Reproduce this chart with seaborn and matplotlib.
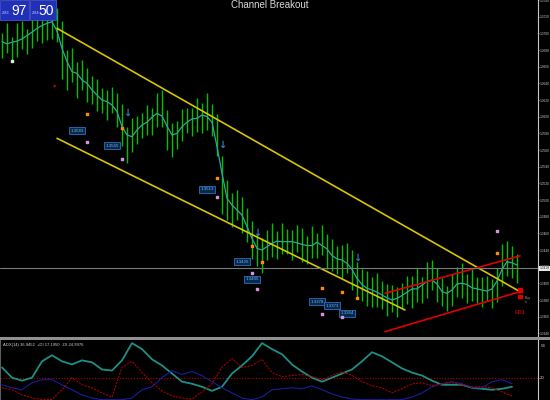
import numpy as np
import pandas as pd
import seaborn as sns
import matplotlib.pyplot as plt
from matplotlib.patches import Rectangle
import matplotlib.transforms as mtransforms

# ---- price bars (mid price per bar and high-low range in pips) ----
mid_prices = [1.3686, 1.3694, 1.3682, 1.3692, 1.3698, 1.3690, 1.3704, 1.3710, 1.3704, 1.3714,
              1.3718, 1.3710, 1.3680, 1.3656, 1.3662, 1.3644, 1.3650, 1.3638, 1.3632, 1.3626,
              1.3620, 1.3614, 1.3620, 1.3608, 1.3590, 1.3566, 1.3578, 1.3584, 1.3590, 1.3596,
              1.3594, 1.3608, 1.3610, 1.3584, 1.3572, 1.3578, 1.3590, 1.3596, 1.3594, 1.3602,
              1.3598, 1.3606, 1.3596, 1.3578, 1.3518, 1.3500, 1.3488, 1.3494, 1.3482, 1.3470,
              1.3452, 1.3440, 1.3434, 1.3446, 1.3452, 1.3446, 1.3454, 1.3450, 1.3446, 1.3454,
              1.3446, 1.3440, 1.3450, 1.3446, 1.3452, 1.3438, 1.3434, 1.3428, 1.3426, 1.3430,
              1.3416, 1.3404, 1.3398, 1.3394, 1.3390, 1.3392, 1.3386, 1.3380, 1.3382, 1.3378,
              1.3386, 1.3392, 1.3390, 1.3398, 1.3392, 1.3404, 1.3410, 1.3398, 1.3390, 1.3382,
              1.3392, 1.3402, 1.3404, 1.3394, 1.3398, 1.3392, 1.3390, 1.3394, 1.3388, 1.3398,
              1.3422, 1.3430, 1.3426, 1.3418]
range_pips = [30, 36, 28, 40, 34, 30, 42, 38, 30, 44, 50, 40,
              70, 48, 40, 44, 36, 40, 34, 38, 30, 36, 32, 40, 50, 44, 40, 34, 30, 36,
              32, 40, 44, 48, 40, 34, 38, 30, 34, 40, 36, 44, 38, 50, 70, 48, 40, 36,
              44, 40, 46, 38, 42, 36, 40, 34, 38, 30, 36, 32, 40, 34, 38, 30, 36, 42,
              38, 34, 40, 36, 48, 44, 38, 42, 36, 40, 34, 38, 32, 36, 30, 34, 38, 40,
              32, 44, 36, 40, 34, 30, 38, 36, 42, 34, 38, 32, 36, 30, 34, 40, 50, 42,
              38, 34]

# ---- channel lines: (bar, price) endpoints ----
yellow_upper = [(11, 1.3706), (103.6, 1.3390)]
yellow_lower = [(11, 1.3574), (80.6, 1.3368)]
red_upper = [(76.6, 1.3388), (103.6, 1.3433)]
red_lower = [(76.6, 1.3342), (103.6, 1.3390)]

# ---- signal markers ----
orange_bars = [17, 24, 43, 50, 52, 64, 68, 71, 99]
orange_prices = [1.3603, 1.3586, 1.3526, 1.3445, 1.3426, 1.3394, 1.3390, 1.3382, 1.3436]
pink_bars = [17, 24, 43, 50, 51, 64, 68, 99]
pink_prices = [1.3570, 1.3549, 1.3504, 1.3412, 1.3393, 1.3363, 1.3360, 1.3463]
arrow_bars = [25, 44, 51, 71]
arrow_prices = [1.3604, 1.3566, 1.3460, 1.3430]
label_bars = [15, 22, 41, 48, 50, 63, 66, 69]
label_prices = [1.3583, 1.3565, 1.3513, 1.3426, 1.3405, 1.3378, 1.3373, 1.3364]

# ---- ADX panel (every second bar) ----
adx = [29.3, 20.1, 17.4, 20.1, 34.8, 40.3, 34.8, 32.0, 35.7, 33.9, 27.5, 26.5, 35.7,
       51.2, 45.8, 36.6, 31.1, 23.8, 16.5, 14.6, 11.9, 8.2, 11.9, 23.8, 31.1, 39.3,
       51.2, 45.8, 41.2, 32.0, 25.6, 20.1, 16.5, 20.1, 23.8, 27.5, 34.8, 43.0, 39.3,
       33.9, 28.4, 24.7, 22.0, 17.4, 13.7, 13.7, 13.7, 11.0, 10.1, 9.2, 10.1, 11.9]
plus_di = [13.7, 11.0, 9.2, 15.6, 18.3, 18.3, 13.7, 9.2, 4.6, 1.8, 0.3, 0.3, 0.3,
           1.8, 9.2, 11.9, 20.1, 26.5, 22.9, 25.6, 22.0, 16.5, 11.0, 6.4, 1.8, 0.3,
           2.7, 9.2, 10.1, 11.0, 10.1, 12.8, 9.2, 5.5, 2.7, 0.9, 0.3, 0.3, 0.3,
           0.3, 0.3, 2.7, 6.4, 11.9, 14.6, 16.5, 14.6, 11.0, 11.0, 16.5, 18.3, 14.6]
minus_di = [11.0, 9.2, 4.6, 1.8, 0.5, 0.5, 9.2, 20.1, 13.7, 11.0, 6.4, 2.7, 29.3,
            34.8, 24.7, 15.6, 8.2, 3.7, 1.8, 0.9, 7.3, 14.6, 29.3, 37.5, 29.3, 31.1,
            36.6, 24.7, 21.0, 22.0, 22.9, 21.0, 18.3, 22.0, 25.6, 22.0, 16.5, 12.8, 11.0,
            6.4, 10.1, 14.6, 15.6, 12.8, 14.6, 15.6, 13.7, 11.9, 11.9, 11.0, 7.3, 3.7]

price_ticks = [1.3340 + 0.0020 * k for k in range(21)]

df = pd.DataFrame({'bar': np.arange(len(mid_prices)), 'mid': mid_prices, 'range': range_pips})
df['high'] = df['mid'] + df['range'] * 0.00005
df['low'] = df['mid'] - df['range'] * 0.00005
df['ma'] = df['mid'].rolling(3, center=True, min_periods=1).mean()

osc = pd.DataFrame({'bar': df['bar'].values[::2], 'adx': adx, 'pdi': plus_di, 'mdi': minus_di})

sns.set_style('dark', {'axes.facecolor': 'black', 'figure.facecolor': 'black'})
plt.rcParams['font.family'] = ['Liberation Sans', 'DejaVu Sans']

fig = plt.figure(figsize=(5.5, 4), dpi=100)
fig.patch.set_facecolor('black')
ax = fig.add_axes([0, 63 / 400, 538 / 550, 337 / 400])
ax2 = fig.add_axes([0, 0, 538 / 550, 60 / 400])

# main price panel
ax.vlines(df['bar'], df['low'], df['high'], color='#00c000', lw=1.0)
sns.lineplot(data=df, x='bar', y='ma', ax=ax, color='#2aa8a0', lw=0.9)

for seg, col in [(yellow_upper, '#d8c400'), (yellow_lower, '#d8c400'),
                 (red_upper, '#e00000'), (red_lower, '#e00000')]:
    ax.plot([seg[0][0], seg[1][0]], [seg[0][1], seg[1][1]], color=col, lw=1.2)

last_price = mid_prices[-1]
ax.axhline(last_price, color='#7a7a7a', lw=0.8)

ax.scatter(orange_bars, orange_prices, s=3, marker='s', color='#ff8c00', zorder=5)
ax.scatter(pink_bars, pink_prices, s=3, marker='s', color='#d890e0', zorder=5)
for b, p in zip(arrow_bars, arrow_prices):
    ax.text(b, p, '↓', color='#3a78c0', fontsize=7, ha='center', va='center',
            family=['DejaVu Sans'], fontweight='bold')
for b, p in zip(label_bars, label_prices):
    ax.text(b, p, f'{p:.4f}', color='#6fb0f0', fontsize=3.2, ha='center', va='center',
            bbox=dict(boxstyle='square,pad=0.35', fc='#0a2848', ec='#2a70c0', lw=0.6))

ax.text(10.6, 1.3636, '◆', color='#c00000', fontsize=3, ha='center', va='center',
        family=['DejaVu Sans'])
ax.scatter([2, 103.6, 103.6], [1.3667, 1.3392, 1.3384], s=[2, 6, 6], marker='s',
           color=['#e0e0e0', '#e00000', '#e00000'], zorder=6)
ax.text(102.5, 1.3365, 'E01', color='#e00000', fontsize=4.5, ha='left', va='center')
ax.text(104.6, 1.3380, 'Buy\nin', color='#909090', fontsize=2.6, ha='left', va='center')

ax.set_xlim(-0.4, 107.2)
ax.set_ylim(1.3740 - 337 * 0.00012, 1.3740)
ax.set_xticks([])
ax.set_yticks(price_ticks)
ax.set_yticklabels([f'{t:.4f}' for t in price_ticks])
ax.yaxis.tick_right()
ax.tick_params(axis='y', colors='#c8c8c8', labelsize=2.3, length=1, width=0.5, pad=0.4)
ax.set_xlabel('')
ax.set_ylabel('')
for s in ['top', 'left', 'bottom']:
    ax.spines[s].set_visible(False)
ax.spines['right'].set_color('#c8c8c8')
ax.spines['right'].set_linewidth(0.8)

trans = mtransforms.blended_transform_factory(ax.transAxes, ax.transData)
ax.text(1.003, last_price, f'{last_price:.4f}', transform=trans, fontsize=2.3,
        color='#202020', ha='left', va='center',
        bbox=dict(boxstyle='square,pad=0.25', fc='#e8e8e8', ec='none'))

# ADX panel
ax2.axhline(20, color='#b00000', lw=0.8, ls=(0, (1, 1.5)))
sns.lineplot(data=osc, x='bar', y='adx', ax=ax2, color='#1f8f86', lw=1.3)
sns.lineplot(data=osc, x='bar', y='pdi', ax=ax2, color='#1c1ca0', lw=0.8)
sns.lineplot(data=osc, x='bar', y='mdi', ax=ax2, color='#a00000', lw=0.8, ls=(0, (2, 1)))
ax2.set_xlim(-0.4, 107.2)
ax2.set_ylim(0, 54)
ax2.set_xticks([])
ax2.set_yticks([20])
ax2.set_yticklabels(['20'])
ax2.yaxis.tick_right()
ax2.tick_params(axis='y', colors='#c8c8c8', labelsize=3.2, length=1, width=0.5, pad=0.6)
ax2.set_xlabel('')
ax2.set_ylabel('')
for s in ['top', 'bottom']:
    ax2.spines[s].set_visible(False)
ax2.spines['left'].set_color('#707070')
ax2.spines['left'].set_linewidth(0.6)
ax2.spines['right'].set_color('#c8c8c8')
ax2.spines['right'].set_linewidth(0.8)
ax2.text(1.006, 0.93, '54', transform=ax2.transAxes, color='#c8c8c8', fontsize=3.2,
         ha='left', va='top')
ax2.text(0.006, 0.95, 'ADX(14) 36.9452  +DI 17.1950  -DI 24.9976', transform=ax2.transAxes,
         color='#d0d0d0', fontsize=3, ha='left', va='top')

# separator between panels
fig.add_artist(Rectangle((0, 60 / 400), 1, 3 / 400, transform=fig.transFigure,
                         color='#909090', lw=0))

# title at the top edge
fig.text(0.491, 1 - 8.5 / 400, 'Channel Breakout', color='#d8d8d8', fontsize=7,
         ha='center', va='baseline')

# symbol boxes top-left
for x0, w, big, small in [(0, 29, '97', '2.83'), (30, 26, '50', '2.84')]:
    fig.add_artist(Rectangle((x0 / 550, 1 - 20 / 400), w / 550, 20 / 400,
                             transform=fig.transFigure, fc='#2030b8', ec='#5060e0', lw=0.5))
    fig.text((x0 + w - 2) / 550, 1 - 11 / 400, big, color='white', fontsize=10,
             ha='right', va='center')
    fig.text((x0 + 2) / 550, 1 - 13 / 400, small, color='#d0d0ff', fontsize=2.8,
             ha='left', va='center')

plt.savefig('out.png', dpi=100, facecolor='black')
plt.close()
